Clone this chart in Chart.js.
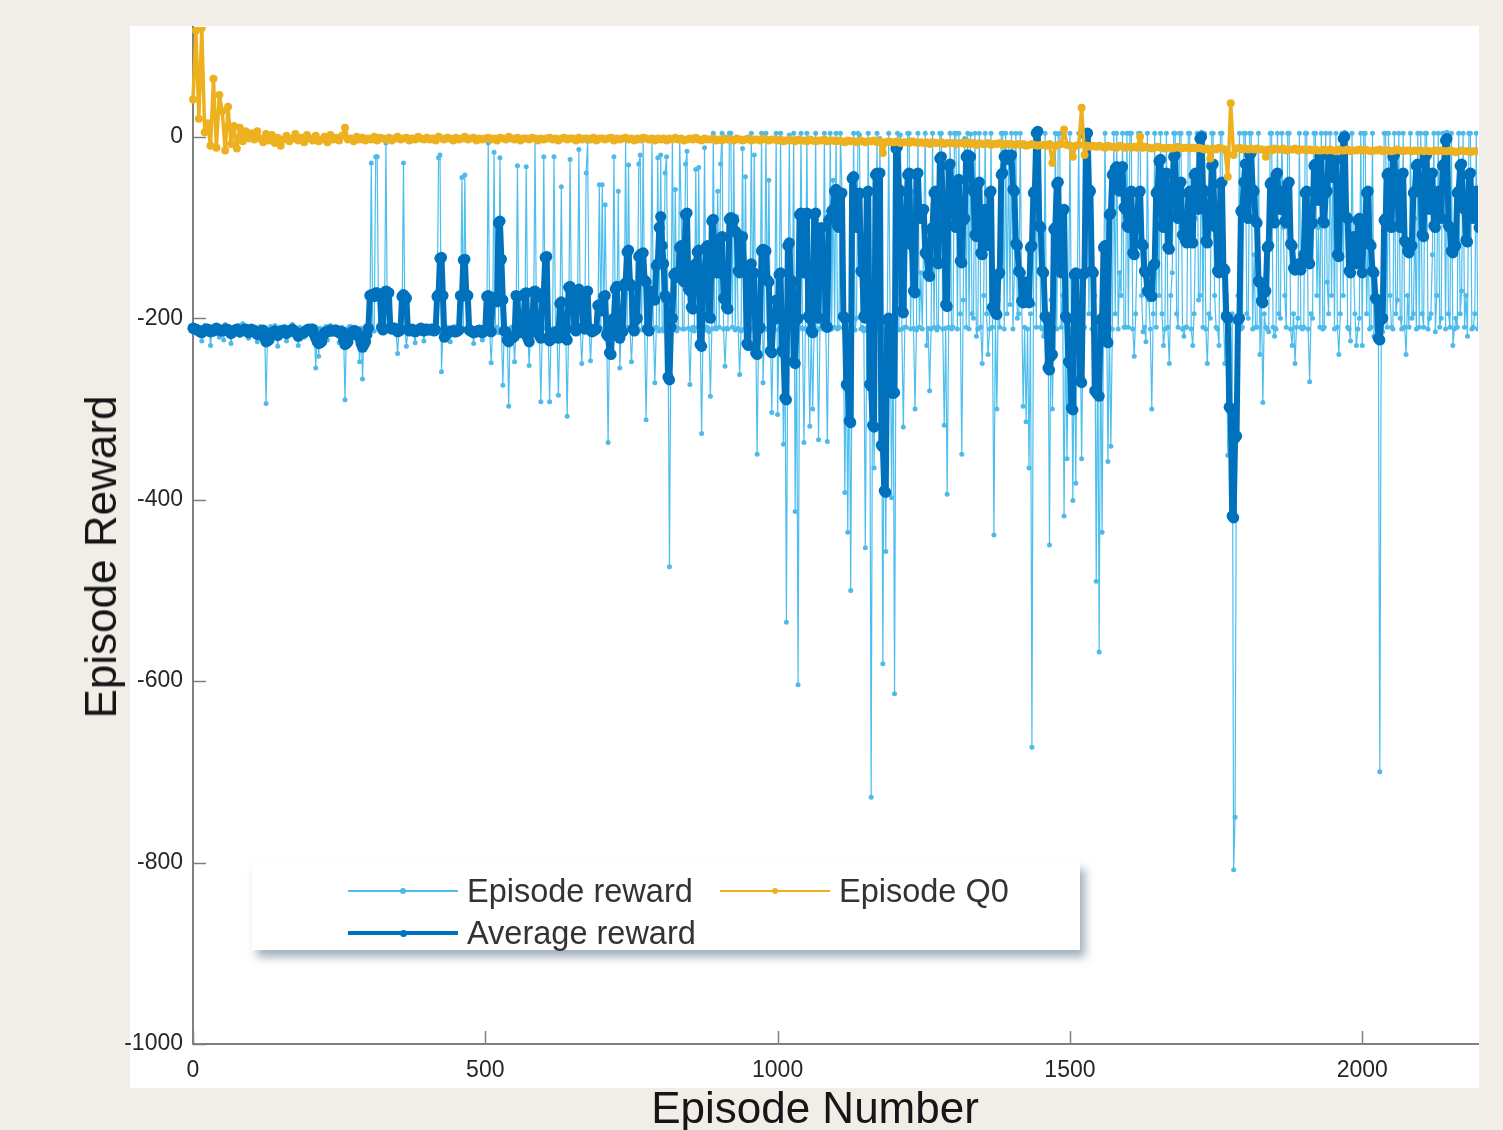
<!DOCTYPE html>
<html>
<head>
<meta charset="utf-8">
<script src="https://cdn.jsdelivr.net/npm/chart.js@4.4.1/dist/chart.umd.min.js"></script>
<style>
  html, body { margin: 0; padding: 0; }
  body { width: 1503px; height: 1130px; background: #f1eee7; position: relative; overflow: hidden;
         font-family: "Liberation Sans", Arial, sans-serif; }
  #panel { position: absolute; left: 130px; top: 26px; width: 1349px; height: 1062px; background: #fff; }
  #chart { position: absolute; left: 0; top: 0; }
  .title { position: absolute; font-size: 44px; color: #161616; white-space: nowrap; line-height: 1; }
  #xTitle { left: 815px; top: 1108px; transform: translate(-50%, -50%); }
  #yTitle { left: 101px; top: 557px; transform: translate(-50%, -50%) rotate(-90deg); }
  #legend { position: absolute; left: 252px; top: 862px; width: 828px; height: 88px; background: #fff;
            box-shadow: 5px 7px 9px rgba(85, 110, 130, 0.55); }
  .item { position: absolute; height: 40px; display: flex; align-items: center; font-size: 32.5px; color: #333; white-space: nowrap; }
  .sample { position: relative; width: 110px; height: 40px; margin-right: 9px; }
  .sample .ln { position: absolute; left: 0; right: 0; top: 50%; }
  .sample .dot { position: absolute; left: 50%; top: 50%; border-radius: 50%; }
</style>
</head>
<body>
<div id="panel"></div>
<canvas id="chart" width="1503" height="1130"></canvas>
<div class="title" id="yTitle">Episode Reward</div>
<div class="title" id="xTitle">Episode Number</div>
<div id="legend"></div>
<script>
// rewards read every 2.5 episodes, Q0 every 5 episodes
const STEP = 2.5
const Q_STEP = 5

const episodeReward = [
  -212,-215,-210,-209,-218,-213,-225,-211,-208,-216,-214,-209,-230,-212,-211,-217,-209,-212,-221,-210,-213,-224,-207,-211,-215,-209,-228,-213,-210,-216,-212,-208,-219,-212,-206,-215,-214,-210,-222,-211,
  -211,-214,-218,-210,-226,-212,-209,-215,-214,-211,-294,-213,-213,-209,-220,-212,-208,-216,-231,-210,-212,-214,-216,-209,-225,-212,-210,-218,-207,-211,-219,-213,-230,-210,-213,-216,-221,-211,-209,-214,
  -213,-210,-209,-216,-255,-212,-242,-211,-218,-214,-211,-209,-224,-213,-208,-215,-216,-210,-212,-218,-227,-211,-210,-213,-290,-212,-215,-209,-209,-214,-221,-210,-213,-216,-248,-211,-267,-213,-214,-210,
  -212,-210,-29,-213,-214,-22,-22,-211,-208,-215,-216,-210,-7,-212,-211,-214,-213,-209,-209,-216,-239,-211,-215,-213,-29,-210,-231,-214,-212,-209,-210,-216,-227,-212,-211,-210,-208,-214,-225,-211,
  -213,-210,-211,-214,-209,-212,-216,-210,-23,-20,-259,-213,-214,-211,-210,-216,-226,-212,-212,-209,-218,-214,-211,-210,-45,-213,-42,-211,-215,-212,-209,-216,-228,-211,-213,-210,-210,-214,-224,-212,
  -212,-210,-7,-214,-249,-211,-17,-213,-210,-216,-23,-212,-274,-210,-213,-215,-297,-211,-210,-214,-248,-212,-32,-210,-215,-211,-211,-218,-33,-212,-252,-210,-213,-214,-3,-211,-210,-215,-292,-212,
  -22,-211,-210,-214,-292,-212,-214,-22,-211,-210,-285,-213,-55,-211,-213,-215,-308,-212,-25,-210,-212,-214,-209,-211,-14,-213,-250,-210,-213,-40,-5,-212,-247,-210,-211,-214,-210,-212,-53,-211,
  -53,-212,-75,-210,-337,-214,-213,-211,-22,-212,-210,-60,-255,-213,-211,-214,-3,-210,-31,-212,-248,-211,-212,-215,-210,-30,-20,-213,-3,-210,-312,-211,-213,-216,-3,-212,-271,-210,-23,-214,
  -20,-212,-214,-40,-22,-210,-474,-213,-3,-211,-58,-214,-211,-2,-84,-212,-212,-30,-16,-211,-273,-213,-210,-214,-36,-210,-34,-212,-327,-211,-12,-213,-210,-215,-286,-212,4,-211,-212,-60,
  -210,-30,4,-212,-253,-211,-212,4,4,-210,-2,-213,-88,-211,-262,-214,-13,-212,-44,-210,-230,-213,4,-211,-20,-212,-350,-210,-212,4,-271,-213,4,-211,-48,-212,-304,-214,-213,4,
  -306,-212,4,-210,-339,-214,-535,-211,2,-213,-210,4,-413,-212,-604,-210,4,-212,-337,-211,4,-214,-319,-212,-300,-210,4,-213,-334,-211,-99,-212,4,-213,-336,-211,4,-212,-48,-210,
  4,-212,-210,4,-60,-211,-392,-213,-436,-212,-500,-210,4,-213,-200,4,2,-212,-210,-214,-453,-211,4,-212,-728,-213,-365,-210,4,-212,-2,-211,-581,-213,-457,-210,4,-212,-398,-211,
  -614,-211,4,-213,2,-212,-320,-210,-210,4,4,-212,-60,-211,-300,-213,4,-210,-150,-212,-100,4,-230,-211,-280,-212,4,-210,-70,-213,-210,4,4,-212,-318,-211,-394,-210,4,-212,
  -210,4,4,-212,4,-195,-350,-180,-2,-210,4,-212,3,-195,-200,4,-220,-212,4,-210,-250,-175,4,-195,-240,-212,4,-210,-439,-195,-300,-180,-210,4,4,-212,4,-195,-10,-185,
  4,-212,-150,4,-200,-195,4,-180,-297,-210,-314,-212,-365,-195,-673,-185,4,-210,5,4,-210,-212,-220,4,-250,-195,-450,-180,-300,-210,4,-212,3,4,-210,-175,-418,-195,-355,-212,
  4,-212,-401,-195,-382,-175,4,-210,-355,-212,-210,4,5,-195,4,-212,-200,-175,-490,-210,-568,-212,-436,-195,4,-175,-358,-210,-341,-212,4,-195,4,-212,-150,-175,4,-210,-210,4,
  -210,4,4,-212,-242,-195,-120,4,4,-175,-215,-210,-226,4,-180,-212,-300,-195,4,-210,-60,-175,4,-195,-230,-212,4,-210,-250,-175,-150,4,4,-195,-210,4,4,-212,-220,-210,
  -210,4,4,-212,-230,-195,-90,4,-180,-175,5,-210,4,-212,-250,-195,-200,4,4,-175,-210,-212,-230,4,4,-195,-250,-175,-351,-212,-300,-195,-808,-750,-300,-175,4,-212,-210,4,
  4,-195,-200,4,4,-212,-130,-210,-210,4,-240,-175,-293,-195,-210,-212,-215,4,4,-210,-220,-212,4,-195,-200,4,-100,-175,-210,4,4,-212,-230,-195,-250,-210,-200,4,-210,-212,
  -210,4,4,-212,-270,-195,-200,4,4,-175,-100,-210,4,-212,-210,4,-160,-195,4,-175,-20,-212,4,-210,-240,-195,4,-175,5,4,-210,-212,-225,4,-140,-195,-230,-212,-200,4,
  -230,4,4,-195,-110,-212,-210,4,-220,-175,-200,-195,-700,-212,-215,4,4,-210,4,-175,-210,-212,4,-195,-180,4,-200,-212,4,-210,-240,-175,-210,4,-200,-195,-90,-212,4,-210,
  4,-195,-210,4,4,-212,-200,-195,-130,4,-215,-175,4,-210,-200,4,4,-212,5,-195,-210,4,-230,-212,-200,-210,4,-195,-170,4,-210,-175,-220,4,4,-212,-210,-195,4,-212,
  -207
]

const averageReward = [
  -211,-212,-212,-213,-214,-215,-216,-214,-213,-212,-212,-214,-215,-214,-214,-212,-211,-212,-213,-214,-214,-213,-212,-212,-213,-215,-217,-215,-214,-213,-212,-214,-215,-214,-213,-212,-212,-214,-216,-214,
  -212,-213,-214,-216,-218,-216,-215,-214,-213,-222,-226,-225,-224,-219,-216,-215,-214,-216,-219,-217,-215,-214,-213,-215,-217,-215,-214,-213,-212,-214,-215,-217,-220,-218,-217,-216,-216,-214,-213,-212,
  -213,-212,-212,-218,-222,-226,-228,-227,-226,-220,-216,-215,-215,-214,-213,-214,-214,-213,-213,-215,-216,-215,-215,-224,-229,-228,-226,-220,-216,-215,-214,-214,-215,-219,-222,-228,-232,-229,-226,-218,
  -211,-175,-174,-176,-176,-172,-172,-174,-175,-210,-213,-172,-170,-171,-172,-211,-212,-211,-211,-213,-215,-214,-213,-176,-174,-176,-178,-212,-214,-213,-212,-214,-215,-214,-213,-212,-211,-213,-214,-212,
  -212,-213,-213,-212,-212,-214,-213,-176,-174,-134,-133,-175,-221,-218,-216,-215,-215,-214,-214,-215,-215,-214,-213,-175,-176,-136,-135,-174,-175,-213,-214,-215,-216,-215,-215,-214,-213,-215,-216,-214,
  -213,-176,-175,-214,-215,-177,-178,-181,-182,-95,-93,-135,-180,-214,-215,-224,-226,-223,-222,-221,-220,-175,-176,-215,-216,-215,-215,-173,-172,-222,-226,-216,-215,-171,-170,-210,-211,-219,-222,-178,
  -172,-133,-132,-222,-225,-223,-222,-216,-215,-220,-222,-184,-182,-212,-213,-222,-224,-166,-165,-170,-175,-212,-214,-170,-168,-173,-175,-210,-212,-171,-170,-211,-213,-215,-214,-213,-212,-186,-185,-190,
  -192,-176,-175,-218,-220,-238,-240,-205,-200,-168,-165,-220,-222,-216,-215,-163,-161,-127,-125,-162,-165,-212,-214,-202,-200,-132,-130,-129,-128,-158,-160,-212,-214,-172,-170,-178,-180,-142,-140,-100,
  -88,-120,-140,-175,-178,-265,-268,-210,-200,-152,-150,-153,-155,-122,-120,-158,-160,-86,-84,-168,-170,-188,-190,-142,-140,-127,-125,-229,-231,-152,-150,-122,-120,-198,-200,-93,-91,-148,-150,-120,
  -150,-112,-110,-178,-180,-188,-190,-91,-89,-90,-92,-104,-106,-148,-150,-112,-110,-148,-150,-228,-230,-142,-140,-152,-150,-238,-240,-212,-210,-126,-124,-125,-126,-158,-160,-236,-238,-202,-200,-180,
  -200,-152,-150,-236,-238,-288,-290,-120,-117,-158,-160,-248,-250,-202,-200,-86,-84,-148,-150,-86,-84,-198,-200,-214,-216,-86,-84,-198,-200,-102,-100,-128,-130,-208,-210,-92,-90,-82,-80,-60,
  -58,-98,-100,-64,-62,-198,-200,-273,-275,-313,-315,-46,-44,-98,-100,-64,-62,-148,-150,-198,-200,-62,-60,-273,-275,-318,-320,-42,-40,-41,-40,-340,-342,-390,-392,-202,-200,-280,-282,-283,
  -282,-13,-11,-58,-60,-192,-194,-92,-90,-42,-40,-118,-120,-170,-172,-42,-40,-88,-90,-82,-80,-128,-130,-152,-154,-102,-100,-62,-60,-138,-140,-24,-22,-78,-80,-185,-187,-32,-30,-58,
  -60,-98,-100,-49,-47,-137,-139,-92,-90,-22,-20,-21,-22,-58,-60,-108,-110,-52,-50,-128,-130,-82,-80,-118,-120,-62,-60,-188,-190,-194,-196,-152,-150,-42,-40,-22,-20,-23,-25,-22,
  -20,-58,-60,-118,-120,-148,-150,-181,-183,-162,-160,-181,-183,-122,-120,-62,-60,4,6,-98,-100,-148,-150,-198,-200,-255,-257,-242,-240,-102,-100,-52,-50,-148,-150,-82,-80,-198,-200,-248,
  -250,-299,-301,-152,-150,-198,-200,-269,-271,-152,-150,2,4,-58,-60,-148,-150,-280,-282,-284,-286,-202,-200,-122,-120,-225,-227,-86,-84,-42,-40,-35,-33,-58,-60,-35,-33,-78,-80,-98,
  -100,-62,-60,-128,-130,-92,-90,-62,-60,-118,-120,-148,-150,-170,-172,-174,-176,-142,-140,-62,-60,-27,-25,-98,-100,-42,-40,-122,-124,-62,-60,-22,-20,-88,-90,-52,-50,-108,-110,-115,
  -117,-62,-60,-115,-117,-42,-40,-78,-80,-2,0,-58,-60,-115,-117,-92,-90,-32,-30,-98,-100,-148,-150,-52,-50,-145,-147,-198,-200,-298,-300,-418,-420,-332,-330,-202,-200,-82,-80,-50,
  -30,-88,-90,-20,-18,-58,-60,-93,-95,-159,-161,-181,-183,-172,-170,-122,-120,-52,-50,-93,-95,-42,-40,-78,-80,-62,-60,-93,-95,-52,-50,-118,-120,-145,-147,-142,-140,-145,-147,-138,
  -130,-62,-60,-138,-140,-97,-95,-32,-30,-68,-70,-22,-20,-93,-95,-62,-60,-20,-18,-43,-45,-27,-25,-130,-132,-62,-60,-2,0,-88,-90,-148,-150,-112,-110,-138,-140,-92,-90,-120,
  -150,-102,-100,-62,-60,-118,-120,-148,-150,-178,-180,-222,-224,-202,-200,-92,-90,-42,-40,-98,-100,-22,-20,-58,-60,-98,-100,-42,-40,-115,-117,-126,-128,-122,-120,-62,-60,-32,-30,-45,
  -60,-108,-110,-22,-20,-78,-80,-42,-40,-98,-100,-62,-60,-88,-90,-32,-30,-4,-2,-98,-100,-126,-128,-122,-120,-62,-60,-32,-30,-78,-80,-114,-116,-42,-40,-88,-90,-62,-60,-80,
  -100
]

const episodeQ0 = [
  41,117,20,120,5,15,-10,64,-12,46,28,-15,33,-8,12,-13,10,-5,6,-2,
  4,-3,6,-2,-6,3,-4,2,-7,-1,-10,-3,1,-5,-2,3,-4,-1,-6,2,
  -2,-4,1,-5,-3,0,-6,2,-3,-1,-4,1,10,-3,-2,-5,0,-3,-1,-4,
  -2,-3,0,-4,-1,-2,-3,-1,-4,-2,0,-3,-2,-1,-4,-2,-3,0,-2,-3,
  -1,-3,-2,-4,0,-2,-3,-1,-2,-4,-1,-3,-2,0,-3,-2,-1,-4,-2,-3,
  -2,-1,-3,-2,-4,-1,-2,-3,0,-2,-3,-1,-4,-2,-2,-3,-1,-2,-4,-2,
  -3,-2,-1,-3,-2,-4,-2,-1,-3,-2,-2,-4,-1,-3,-2,-2,-3,-1,-4,-2,
  -2,-3,-2,-1,-4,-2,-3,-2,-1,-3,-2,-4,-2,-3,-1,-2,-3,-2,-4,-2,
  -3,-2,-4,-2,-3,-1,-3,-2,-4,-3,-2,-3,-1,-3,-4,-2,-3,-3,-2,-4,
  -3,-4,-2,-3,-3,-4,-2,-3,-4,-3,-2,-4,-3,-3,-4,-2,-3,-4,-3,-3,
  -4,-3,-5,-4,-3,-4,-5,-3,-4,-4,-5,-3,-4,-5,-4,-4,-3,-5,-4,-4,
  -5,-4,-5,-6,-4,-5,-5,-6,-4,-5,-6,-5,-5,-4,-6,-5,-18,-6,-5,-6,
  -6,-5,-7,-6,-6,-7,-5,-6,-7,-6,-7,-6,-8,-6,-7,-7,-6,-8,-7,-7,
  -7,-8,-7,-7,-8,-6,-8,-7,-9,-7,-8,-8,-7,-9,-8,-8,-7,-9,-8,-8,
  -8,-9,-8,-9,-8,-10,-9,-8,-9,-10,-9,-9,-10,-8,-29,-10,-9,-8,8,-9,
  -10,-22,-10,-9,32,-20,-10,-11,-10,-11,-10,-11,-12,-10,-11,-11,-12,-10,-11,-12,
  -11,-12,-11,-12,0,-12,-11,-12,-13,-12,-11,-12,-13,-12,-12,-13,-12,-11,-13,-12,
  -12,-13,-12,-13,-12,-13,-14,-13,-24,-13,-14,-12,-13,-14,-44,37,-20,-13,-12,-14,
  -13,-14,-13,-14,-13,-14,-14,-22,-14,-15,-13,-14,-14,-13,-15,-14,-14,-13,-15,-14,
  -14,-15,-14,-15,-14,-15,-15,-14,-15,-14,-15,-16,-14,-15,-15,-14,-16,-15,-15,-14,
  -15,-14,-15,-16,-15,-15,-14,-16,-15,-15,-16,-15,-14,-15,-16,-15,-15,-16,-15,-16,
  -15,-16,-15,-16,-16,-15,-16,-15,-16,-16,-15,-16,-17,-16,-15,-16,-16,-17,-16,-16,
  -16
]

const xTickLabels = [0, 500, 1000, 1500, 2000]
const yTickLabels = [-1000, -800, -600, -400, -200, 0]

const toPoints = (arr, step) => arr.map((v, i) => ({ x: i * step, y: v }))

// tick marks in MATLAB point inward
const innerTicks = {
  id: 'innerTicks',
  afterDraw(chart) {
    const { ctx, chartArea, scales } = chart
    ctx.save()
    ctx.strokeStyle = '#808080'
    ctx.lineWidth = 1.5
    ctx.beginPath()
    scales.x.ticks.forEach(t => {
      const px = Math.round(scales.x.getPixelForValue(t.value)) + 0.5
      ctx.moveTo(px, chartArea.bottom)
      ctx.lineTo(px, chartArea.bottom - 13)
    })
    scales.y.ticks.forEach(t => {
      const py = Math.round(scales.y.getPixelForValue(t.value)) + 0.5
      ctx.moveTo(chartArea.left, py)
      ctx.lineTo(chartArea.left + 13, py)
    })
    ctx.stroke()
    ctx.restore()
  }
}

const tickFont = { family: '"Liberation Sans", Arial, sans-serif', size: 23 }
const plainLabel = v => String(v)
const clipBox = { left: 6, top: 0, right: 0, bottom: 0 }

const chart = new Chart(document.getElementById('chart').getContext('2d'), {
  type: 'line',
  data: {
    datasets: [
      {
        label: 'Episode reward',
        data: toPoints(episodeReward, STEP),
        borderColor: 'rgb(77, 190, 238)',
        backgroundColor: 'rgb(77, 186, 234)',
        borderWidth: 1.2,
        pointRadius: 2.5,
        pointBorderWidth: 0,
        order: 2,
        clip: clipBox,
      },
      {
        label: 'Episode Q0',
        data: toPoints(episodeQ0, Q_STEP),
        borderColor: 'rgb(237, 177, 32)',
        backgroundColor: 'rgb(237, 177, 32)',
        borderWidth: 3.5,
        pointRadius: 4,
        pointBorderWidth: 0,
        order: 0,
        clip: clipBox,
      },
      {
        label: 'Average reward',
        data: toPoints(averageReward, STEP),
        borderColor: 'rgb(0, 114, 189)',
        backgroundColor: 'rgb(0, 114, 189)',
        borderWidth: 6,
        pointRadius: 5.6,
        pointBorderWidth: 0,
        order: 1,
        clip: clipBox,
      },
    ]
  },
  options: {
    responsive: false,
    animation: false,
    devicePixelRatio: 1,
    events: [],
    layout: { padding: { left: 0, top: 27, right: 25, bottom: 0 } },
    elements: { line: { tension: 0, borderJoinStyle: 'round' } },
    plugins: { legend: { display: false }, tooltip: { enabled: false } },
    scales: {
      x: {
        type: 'linear',
        min: 0,
        max: 2198,
        grid: { display: false, drawTicks: false },
        border: { display: true, color: '#808080', width: 2 },
        ticks: { font: tickFont, color: '#262626', padding: 13, maxRotation: 0, callback: plainLabel },
        afterBuildTicks: s => { s.ticks = xTickLabels.map(v => ({ value: v })) },
        afterFit: s => { s.height = 86 },
      },
      y: {
        type: 'linear',
        min: -1000,
        max: 121,
        grid: { display: false, drawTicks: false },
        border: { display: true, color: '#808080', width: 2 },
        ticks: { font: tickFont, color: '#262626', padding: 10, callback: plainLabel },
        afterBuildTicks: s => { s.ticks = yTickLabels.map(v => ({ value: v })) },
        afterFit: s => { s.width = 193 },
      }
    }
  },
  plugins: [innerTicks]
})

// legend box drawn as html, placed inside the plot like MATLAB's
const legendSpots = [
  { label: 'Episode reward', left: 96, top: 9, thick: 2.5, dot: 6 },
  { label: 'Episode Q0', left: 468, top: 9, thick: 2.5, dot: 6 },
  { label: 'Average reward', left: 96, top: 51, thick: 4.5, dot: 7 },
]
const legendEl = document.getElementById('legend')
legendSpots.forEach(spot => {
  const ds = chart.data.datasets.find(d => d.label === spot.label)
  const item = document.createElement('div')
  item.className = 'item'
  item.style.left = spot.left + 'px'
  item.style.top = spot.top + 'px'
  const sample = document.createElement('div')
  sample.className = 'sample'
  const ln = document.createElement('div')
  ln.className = 'ln'
  ln.style.height = spot.thick + 'px'
  ln.style.marginTop = (-spot.thick / 2) + 'px'
  ln.style.background = ds.borderColor
  const dot = document.createElement('div')
  dot.className = 'dot'
  dot.style.width = dot.style.height = spot.dot + 'px'
  dot.style.marginLeft = dot.style.marginTop = (-spot.dot / 2) + 'px'
  dot.style.background = ds.backgroundColor
  sample.appendChild(ln)
  sample.appendChild(dot)
  const txt = document.createElement('span')
  txt.textContent = ds.label
  item.appendChild(sample)
  item.appendChild(txt)
  legendEl.appendChild(item)
})
</script>
</body>
</html>
